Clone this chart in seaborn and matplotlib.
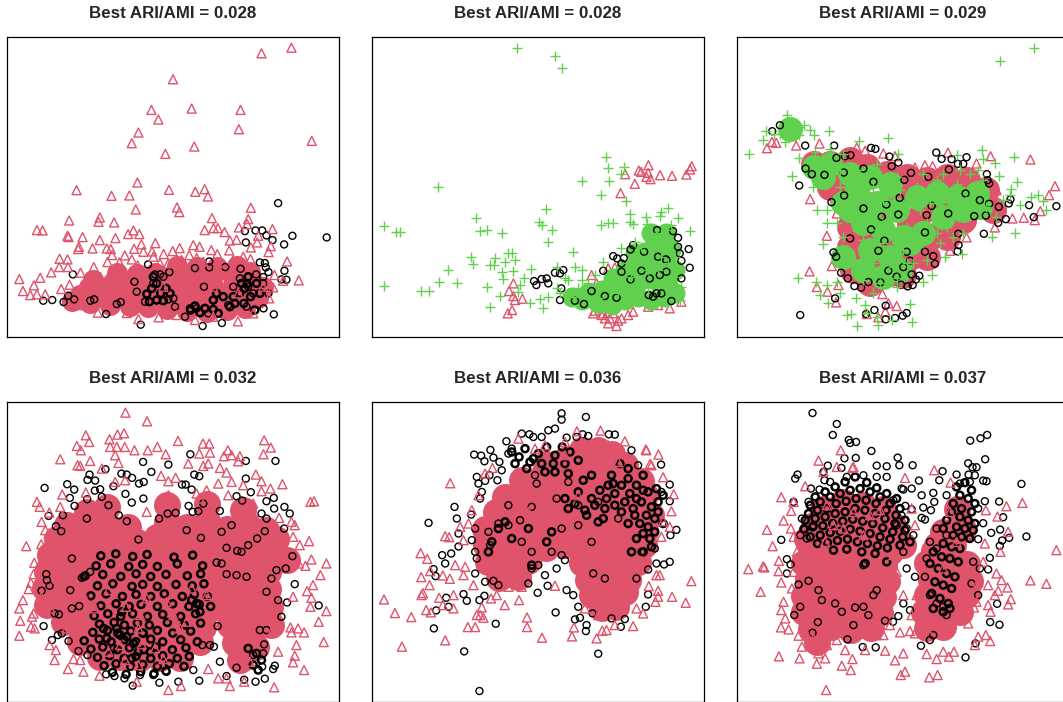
import matplotlib
matplotlib.use("Agg")
import matplotlib.pyplot as plt
import seaborn as sns

# values, in panel units (x 20-1018, y 20-921, y downwards)
# *_core = places where the points overlap into a solid mass, drawn as one filled disc
# *_dense = the crowded black rings on top of that mass

TITLES = ["Best ARI/AMI = 0.028", "Best ARI/AMI = 0.028", "Best ARI/AMI = 0.029",
          "Best ARI/AMI = 0.032", "Best ARI/AMI = 0.036", "Best ARI/AMI = 0.037"]

p1_red = [(875,52),(785,69),(519,147),(454,239),(575,235),(722,239),(475,268),(717,297),(415,307),(395,339),(936,332),(583,349),(496,371),(412,457),(229,480),(507,479),(586,485),(614,477),(624,499),(388,496),(334,497),(407,538),(531,532),(538,546),(753,533),(207,571),(299,562),(295,575),(342,577),(636,564),(745,567),(742,582),(110,600),(127,601),(400,601),(384,612),(418,612),(614,600),(641,594),(654,594),(674,606),(717,592),(818,597),(202,617),(205,621),(247,621),(299,630),(346,624),(690,631),(710,629),(772,637),(775,617),(424,643),(466,639),(236,650),(234,657),(277,655),(320,655),(332,657),(402,656),(539,654),(580,645),(599,650),(753,652),(813,648),(806,666),(178,686),(202,688),(322,696),(336,675),(374,676),(430,665),(456,664),(491,672),(518,663),(634,660),(652,672),(688,661),(862,694),(177,711),(203,711),(57,747),(120,743),(153,727),(897,751),(101,766),(68,783),(90,795),(110,793),(135,793),(183,777),(208,764),(241,728),(281,711),(358,697),(395,688),(413,706),(460,680),(568,675),(590,684),(700,690),(730,680),(752,687),(824,735),(850,752),(820,772),(808,805),(293,848),(380,849),(415,867),(476,862),(714,874),(585,870),(760,850),(545,690),(610,695),(655,700),(480,700),(505,700),(425,725),(360,725),(300,740),(265,745),(235,825),(255,825),(640,860),(530,855),(790,770),(715,790),(640,770),(490,770),(380,790)]
p1_red_core = [(500,838),(560,842),(620,845),(680,840),(735,835),(215,812),(270,820),(330,825),(390,828),(445,830),(240,795),(300,800),(360,805),(420,808),(480,812),(540,815),(600,818),(660,815),(720,812),(775,805),(265,772),(325,778),(385,782),(445,785),(505,788),(565,790),(625,792),(685,788),(745,782),(790,770),(280,750),(340,755),(400,758),(460,760),(520,762),(580,765),(640,768),(700,765),(760,755),(350,728),(410,732),(520,735),(575,738),(635,740),(695,735),(750,725),(530,708),(590,710),(650,712),(710,708),(465,730)]
p1_black = [(835,519),(878,617),(981,622),(735,603),(767,601),(787,601),(800,616),(818,630),(738,637),(853,643),(628,694),(444,703),(780,697),(795,699),(798,712),(854,722),(806,726),(218,733),(508,726),(480,733),(465,733),(585,714),(628,712),(676,711),(722,716),(769,733),(790,741),(845,748),(860,749),(806,790),(791,835),(822,853),(422,884),(608,888),(666,879),(318,852),(129,812),(156,810),(190,816),(204,797),(222,808),(270,812),(282,808),(350,822),(362,816),(403,755),(410,785),(435,815),(460,760),(490,740),(520,805),(525,830),(505,808),(612,770),(570,835),(590,835),(625,850),(555,860),(700,770),(720,745),(685,825),(740,830),(760,790),(745,770),(790,760)]
p1_dense = [(440,792),(455,775),(470,760),(482,790),(498,775),(448,815),(470,810),(490,812),(460,740),(510,790),(572,840),(585,828),(600,848),(615,835),(640,838),(655,850),(690,830),(705,820),(720,790),(735,775),(742,762),(732,820),(752,800),(765,840),(650,790),(670,800),(700,800),(745,740),(770,760),(780,790),(725,760),(640,810)]

p2_green = [(456,54),(571,77),(590,113),(722,381),(728,412),(779,410),(770,430),(650,452),(733,452),(219,472),(709,496),(783,513),(544,536),(910,535),(890,545),(885,558),(795,552),(845,560),(940,563),(333,564),(56,587),(93,607),(104,607),(346,603),(366,600),(412,610),(522,577),(532,584),(560,599),(709,586),(730,578),(745,578),(795,575),(805,582),(847,581),(975,603),(548,635),(623,667),(430,668),(440,668),(319,681),(389,684),(450,689),(420,695),(325,702),(375,706),(388,706),(715,697),(247,720),(410,725),(445,723),(499,718),(575,712),(630,712),(415,747),(220,756),(277,758),(478,745),(465,765),(56,769),(168,783),(192,783),(365,771),(460,785),(405,798),(548,802),(525,808),(495,818),(376,831),(534,835),(575,775),(610,750),(855,620),(900,600),(830,650),(870,640),(920,640),(790,700),(840,690),(890,680),(930,680),(690,735),(650,720),(610,790),(640,775),(670,760),(700,805),(745,735),(880,720),(925,740),(950,770),(945,810),(600,745),(585,790),(625,800),(770,655),(810,635),(650,750),(720,760),(760,790),(800,740),(850,770),(900,770),(850,720),(910,700),(875,610),(920,585)]
p2_green_core = [(670,790),(710,780),(750,770),(790,760),(830,750),(870,750),(910,750),(930,720),(900,700),(860,700),(820,710),(780,720),(880,650),(920,660),(860,610),(905,610),(700,820),(740,825),(780,810),(820,800),(860,810),(900,800),(930,790),(650,810),(840,665),(745,745),(810,670),(860,660),(770,760),(900,640),(620,800)]
p2_red = [(781,432),(822,421),(851,405),(829,425),(850,428),(845,440),(857,447),(886,435),(922,437),(965,433),(976,418),(981,408),(810,461),(767,489),(445,760),(432,783),(445,798),(450,810),(472,806),(441,840),(428,850),(685,850),(690,842),(715,850),(720,865),(735,865),(755,888),(770,865),(790,855),(805,845),(680,735),(730,715),(750,712),(760,745),(695,760),(800,785),(915,835),(950,815),(920,720),(905,745),(660,810),(700,825),(850,830),(880,825),(745,850),(760,872),(730,880),(710,855)]
p2_black = [(877,600),(925,603),(940,623),(805,645),(797,658),(972,657),(745,678),(757,685),(777,684),(838,665),(880,680),(903,688),(950,692),(975,713),(595,720),(585,730),(570,728),(545,745),(530,747),(507,753),(514,765),(550,760),(589,775),(585,810),(630,812),(657,822),(680,783),(720,798),(755,803),(715,722),(770,725),(797,748),(830,722),(885,735),(905,725),(950,745),(852,795),(875,790),(890,790),(920,813),(865,800),(905,690),(940,650),(945,670),(855,745),(770,700)]

p3_green = [(171,255),(185,285),(205,290),(220,285),(240,298),(298,303),(107,303),(97,330),(165,335),(205,315),(250,315),(56,371),(205,384),(186,436),(248,472),(260,541),(292,580),(290,540),(278,643),(203,745),(257,757),(290,765),(320,755),(268,795),(295,820),(378,803),(330,790),(405,825),(350,855),(362,852),(380,888),(445,885),(485,870),(545,876),(540,823),(430,790),(475,323),(387,333),(505,370),(757,360),(680,375),(795,397),(853,380),(808,436),(862,456),(845,478),(840,495),(905,500),(925,495),(940,512),(950,540),(870,525),(855,610),(788,622),(645,680),(695,672),(605,735),(580,755),(912,53),(812,91),(760,385),(760,450),(720,500),(300,420),(285,395),(255,365),(300,355),(340,370),(385,420),(440,400),(500,440),(560,470),(620,450),(680,460),(730,470),(330,470),(380,500),(430,470),(480,500),(540,520),(600,520),(660,510),(720,520),(770,530),(350,560),(410,560),(470,570),(530,590),(590,580),(650,590),(340,620),(400,630),(460,640),(520,660),(580,640),(630,640),(370,690),(430,700),(490,710),(550,700),(400,750),(450,760),(500,745),(150,310),(130,310),(190,300),(410,850),(440,860),(300,450),(330,420),(720,430),(690,420),(745,420),(640,430),(580,430),(820,510),(800,560),(700,610),(360,450),(410,490),(460,510),(510,480),(570,540),(630,500),(690,550),(750,480),(320,580),(380,600),(440,600),(500,620),(560,620),(620,610),(670,620),(350,660),(410,670),(470,680),(530,700),(590,690),(380,730),(440,730),(500,770),(330,700)]
p3_green_core = [(300,400),(360,430),(420,440),(480,460),(380,480),(440,520),(500,540),(560,500),(620,490),(680,500),(740,490),(400,580),(460,600),(520,620),(580,610),(640,560),(700,540),(420,660),(480,680),(540,640),(400,720),(460,740),(340,520),(750,530),(250,410),(280,440),(180,295),(360,540),(420,540),(340,680),(510,720)]
p3_red = [(110,354),(125,335),(138,338),(165,305),(198,346),(268,340),(902,388),(782,378),(654,367),(976,468),(958,495),(932,543),(915,570),(882,563),(848,565),(240,507),(320,550),(290,617),(795,592),(710,622),(660,662),(238,724),(305,708),(260,771),(292,785),(325,765),(318,817),(457,792),(500,828),(475,820),(466,845),(445,862),(410,852),(740,400),(585,405),(608,408),(555,412),(460,370),(495,378),(380,352),(405,362),(390,380),(345,640),(340,665),(350,690),(800,480),(780,480),(805,550)]
p3_red_core = [(300,470),(350,450),(410,410),(470,430),(530,440),(590,450),(650,440),(710,450),(760,500),(340,510),(400,520),(460,530),(520,490),(580,540),(640,520),(700,570),(360,590),(420,610),(480,640),(540,580),(600,620),(650,620),(360,650),(420,680),(480,730),(540,680),(370,720),(430,740),(250,400),(300,400),(790,540),(360,390),(720,510),(650,570),(590,680),(520,735),(420,760),(770,480)]
p3_black = [(149,285),(126,303),(225,346),(312,346),(319,383),(345,378),(361,375),(423,353),(436,356),(478,379),(485,408),(505,397),(619,367),(635,386),(665,387),(684,401),(700,401),(710,381),(657,418),(771,432),(773,450),(778,460),(207,466),(226,415),(245,432),(283,434),(341,427),(400,415),(543,428),(523,449),(595,440),(430,455),(342,496),(304,516),(707,490),(842,508),(837,520),(898,525),(980,528),(807,530),(750,510),(778,521),(509,503),(469,523),(400,535),(455,560),(505,553),(590,555),(605,527),(655,550),(768,556),(733,558),(828,567),(912,561),(805,578),(762,611),(685,611),(585,607),(423,598),(463,632),(360,625),(445,662),(686,645),(683,664),(610,678),(615,701),(310,667),(318,680),(530,665),(585,665),(540,692),(520,711),(475,722),(333,728),(353,745),(373,768),(393,773),(415,756),(451,757),(513,764),(533,769),(548,765),(558,748),(568,737),(545,733),(500,740),(315,805),(210,855),(467,827),(433,840),(408,852),(467,868),(495,864),(518,857),(530,849)]

p4_red = [(376,52),(441,78),(257,120),(372,114),(352,118),(328,132),(267,140),(534,137),(793,135),(609,145),(628,145),(230,152),(330,155),(350,155),(374,155),(403,165),(443,165),(472,155),(242,165),(813,157),(684,165),(180,192),(270,197),(345,180),(497,177),(598,175),(630,172),(672,183),(695,180),(720,183),(791,177),(232,210),(240,212),(355,203),(305,220),(565,205),(610,212),(625,205),(660,218),(715,198),(680,232),(768,238),(483,242),(505,258),(527,248),(655,265),(695,260),(785,258),(848,267),(812,280),(110,320),(186,298),(257,292),(118,335),(180,335),(345,260),(375,255),(620,285),(590,295),(685,300),(730,270),(760,325),(785,288),(932,320),(943,318),(147,352),(124,380),(875,380),(885,390),(838,368),(145,415),(135,405),(880,425),(928,438),(78,453),(123,447),(900,450),(850,460),(102,503),(125,495),(935,493),(980,505),(917,512),(897,505),(100,537),(962,540),(92,563),(85,582),(940,570),(922,588),(123,605),(68,615),(935,608),(880,605),(932,635),(980,648),(57,640),(100,655),(60,677),(95,665),(957,680),(92,695),(103,700),(872,697),(895,700),(57,722),(875,712),(913,712),(148,750),(167,765),(972,741),(890,750),(163,795),(220,792),(240,795),(885,782),(835,770),(880,802),(203,822),(250,830),(913,825),(298,842),(410,860),(505,885),(543,873),(625,822),(655,850),(690,873),(733,860),(823,877),(680,850),(378,635),(420,660),(415,700),(360,750),(425,748),(520,660),(540,700),(465,760),(490,792),(415,810),(325,770),(375,795),(575,580),(560,680),(325,585),(285,640),(250,600),(440,610),(500,620),(620,600),(700,590),(650,660),(720,770),(750,800),(820,700),(770,640),(600,310),(505,300),(440,350),(310,350),(170,550),(200,700),(150,640)]
p4_red_core = [(260,350),(320,335),(500,330),(620,325),(730,345),(200,390),(262,385),(325,392),(385,395),(500,380),(560,395),(620,378),(680,400),(742,385),(800,405),(170,432),(232,425),(290,438),(352,428),(412,440),(472,425),(532,440),(592,430),(652,445),(712,428),(772,442),(830,432),(150,480),(212,472),(272,485),(332,475),(392,490),(455,475),(515,490),(575,478),(635,492),(695,480),(755,492),(815,480),(862,495),(140,530),(200,525),(262,535),(322,528),(385,540),(445,530),(505,540),(565,530),(625,545),(685,530),(745,545),(805,530),(135,580),(195,575),(258,590),(318,580),(380,590),(440,582),(500,592),(560,578),(620,595),(685,585),(745,595),(805,582),(140,630),(200,628),(262,640),(325,632),(385,640),(445,632),(505,645),(565,630),(625,645),(690,635),(750,648),(810,635),(190,680),(250,690),(310,682),(370,690),(430,682),(490,695),(550,680),(610,695),(690,690),(755,700),(815,690),(240,740),(360,735),(480,740),(600,742),(705,745),(770,755),(300,785),(420,790),(540,790),(720,795),(300,735),(420,735),(540,735),(360,785),(480,790)]
p4_black = [(571,177),(429,200),(505,208),(827,197),(738,197),(316,222),(454,230),(268,238),(364,235),(380,238),(396,248),(583,238),(598,243),(738,250),(262,254),(285,256),(133,278),(201,267),(222,283),(340,273),(417,265),(431,260),(546,268),(557,268),(575,283),(284,286),(300,282),(305,305),(376,296),(209,308),(223,332),(261,312),(325,330),(395,322),(430,310),(753,291),(710,303),(822,308),(727,316),(800,318),(854,335),(566,332),(595,348),(578,350),(610,325),(660,347),(527,353),(503,355),(477,370),(870,355),(188,360),(145,362),(260,370),(356,360),(380,378),(695,390),(183,408),(167,393),(795,408),(853,400),(823,340),(800,370),(785,355),(665,410),(560,405),(603,428),(772,430),(415,433),(745,450),(680,458),(712,467),(725,470),(878,483),(858,520),(830,525),(650,502),(665,505),(215,490),(138,537),(140,555),(148,572),(124,587),(815,550),(885,567),(740,545),(680,537),(710,540),(250,545),(245,548),(270,530),(800,590),(862,622),(957,631),(835,615),(210,585),(163,655),(176,658),(237,633),(130,693),(215,640),(845,665),(653,693),(780,705),(800,705),(173,720),(185,715),(155,735),(205,738),(235,768),(262,780),(630,750),(642,755),(793,748),(790,775),(660,800),(607,750),(825,812),(820,822),(787,815),(760,780),(710,818),(680,843),(733,854),(767,860),(795,851),(598,857),(535,860),(478,863),(398,872),(373,850),(343,843),(318,838),(420,840),(460,840),(500,830),(580,825)]
p4_dense = [(302,482),(347,476),(398,484),(441,478),(522,486),(578,480),(288,512),(332,506),(386,514),(428,508),(472,514),(532,506),(608,512),(255,542),(308,538),(362,544),(408,536),(452,544),(498,538),(562,542),(602,536),(292,572),(338,566),(396,574),(428,568),(472,574),(528,568),(577,572),(612,566),(272,602),(318,596),(367,604),(408,598),(452,604),(493,596),(547,604),(583,598),(622,604),(302,632),(348,626),(387,634),(423,628),(472,634),(518,626),(567,634),(598,628),(632,634),(282,662),(323,656),(362,664),(398,656),(442,664),(488,658),(542,664),(587,656),(298,687),(342,682),(373,690),(412,684),(448,690),(502,682),(553,690),(602,684),(278,712),(322,706),(353,714),(392,708),(428,714),(472,706),(518,714),(572,708),(252,737),(297,732),(333,740),(372,734),(408,740),(452,732),(488,740),(542,734),(592,740),(272,762),(308,756),(352,764),(388,758),(432,764),(468,756),(517,764),(558,758),(292,787),(328,782),(372,790),(408,784),(452,790),(488,782),(532,790),(568,784),(312,812),(348,806),(392,814),(428,808),(472,814),(508,806),(552,814),(337,832),(378,838),(422,830),(462,836),(498,828),(770,775),(785,795),(760,810),(775,825),(745,760),(350,700),(380,725),(415,770),(340,760),(365,650),(430,715),(395,790),(320,730),(310,700),(360,720),(400,745),(450,770),(590,625),(575,615),(600,650)]

p5_red = [(707,106),(636,108),(843,163),(881,178),(856,206),(860,210),(895,246),(255,264),(927,297),(920,348),(895,378),(915,395),(890,425),(285,395),(240,423),(252,426),(295,435),(166,474),(186,491),(195,528),(168,546),(233,541),(254,551),(193,570),(173,594),(169,600),(270,510),(300,515),(295,540),(980,558),(875,540),(885,540),(852,573),(880,587),(880,605),(922,605),(872,620),(963,623),(56,613),(222,608),(265,640),(233,630),(183,645),(197,652),(89,654),(138,666),(350,637),(335,660),(345,660),(355,668),(419,630),(378,610),(462,615),(486,667),(486,696),(308,696),(330,696),(240,736),(110,755),(531,728),(621,724),(695,730),(627,697),(805,693),(750,690),(725,705),(712,707),(835,655),(815,640),(430,575),(470,575),(570,572),(395,600),(325,570),(265,600),(382,218),(360,235),(460,130),(780,138),(845,165),(320,345),(310,385),(340,300),(420,290),(490,350),(640,300),(700,250),(760,200),(560,260),(600,180),(680,400),(740,470),(660,640),(700,660),(760,620),(800,600),(700,150),(650,140),(730,150),(770,170),(510,160),(540,150),(600,140)]
p5_red_core = [(542,205),(600,195),(662,205),(720,190),(780,210),(472,255),(530,245),(592,258),(650,245),(710,255),(772,248),(830,258),(420,305),(482,295),(540,308),(602,298),(660,308),(722,295),(782,305),(842,298),(392,350),(450,345),(512,358),(572,348),(630,358),(692,345),(750,355),(812,348),(860,358),(360,402),(422,395),(480,408),(540,398),(602,408),(660,395),(722,405),(780,398),(842,408),(362,450),(420,458),(482,448),(542,458),(600,448),(662,458),(722,448),(782,458),(838,450),(370,500),(432,508),(490,498),(652,505),(712,498),(772,508),(820,500),(402,550),(460,545),(670,555),(732,548),(790,555),(682,600),(740,605),(782,592),(712,640),(752,635),(650,165),(700,165),(740,175)]
p5_black = [(590,54),(663,65),(590,73),(424,138),(470,115),(493,117),(505,125),(530,125),(550,105),(570,100),(605,127),(635,125),(653,117),(670,122),(732,117),(750,118),(376,164),(327,178),(348,181),(385,187),(358,198),(403,200),(430,175),(440,160),(800,165),(820,210),(889,208),(335,245),(373,240),(410,225),(360,257),(397,255),(340,265),(350,290),(345,310),(915,268),(915,318),(890,290),(268,335),(275,370),(190,383),(318,358),(330,400),(280,415),(935,404),(917,420),(320,435),(280,454),(258,475),(231,480),(240,505),(205,522),(211,543),(915,500),(898,508),(875,505),(850,523),(330,535),(360,560),(385,557),(400,570),(490,565),(548,572),(518,593),(605,585),(625,600),(850,598),(243,608),(295,597),(305,617),(358,602),(343,615),(250,635),(213,646),(843,635),(572,652),(640,635),(630,673),(645,668),(665,690),(663,708),(392,686),(206,700),(297,769),(700,776),(343,888),(740,670),(780,672),(768,695),(683,655),(500,520),(520,510),(540,540),(575,520),(600,495),(590,480),(560,470),(500,470),(370,410),(430,390),(400,385),(465,375),(500,335),(515,265),(610,260),(575,310),(680,440),(720,550),(685,535),(815,550),(830,470),(870,460),(330,470),(335,490),(375,450),(510,240),(430,330),(640,330),(640,390),(700,320),(760,370),(590,400),(470,440)]
p5_dense = [(440,170),(462,185),(480,160),(495,200),(520,175),(545,155),(570,180),(592,155),(615,170),(450,205),(485,220),(530,205),(565,205),(600,205),(640,195),(570,230),(610,235),(655,255),(680,240),(705,285),(730,270),(750,295),(770,270),(790,250),(815,270),(835,240),(850,290),(875,280),(895,300),(880,320),(860,335),(830,320),(805,340),(780,320),(750,330),(720,340),(690,330),(660,345),(630,325),(845,360),(870,370),(825,385),(850,395),(870,410),(835,415),(815,430),(855,430),(810,360),(790,385),(770,350),(700,380),(715,370),(665,360),(610,340),(880,350),(895,385),(860,455),(835,470),(800,470),(420,380),(400,400),(380,440),(370,470),(440,430),(490,400),(545,440),(560,410),(500,510),(680,310),(740,240),(765,205),(790,220),(540,230),(505,190),(835,285),(815,310),(795,295),(725,310),(745,265),(600,310),(640,290)]

p6_red = [(265,196),(332,165),(320,215),(280,230),(367,218),(225,273),(153,306),(190,320),(183,347),(160,376),(110,404),(182,400),(190,425),(127,453),(54,522),(98,514),(102,517),(146,497),(145,528),(153,562),(91,590),(185,580),(160,620),(153,645),(165,670),(152,697),(175,703),(205,722),(215,755),(146,784),(208,790),(260,806),(288,885),(335,812),(362,825),(367,792),(405,765),(465,767),(495,796),(520,775),(512,840),(525,830),(598,847),(623,840),(620,792),(590,777),(657,785),(672,770),(745,725),(768,720),(781,738),(735,750),(715,685),(700,658),(732,637),(775,630),(782,650),(835,628),(843,612),(795,600),(805,587),(833,577),(815,555),(775,570),(800,535),(760,500),(812,470),(765,445),(835,410),(803,364),(830,333),(878,323),(768,345),(980,465),(902,556),(950,566),(613,225),(662,262),(525,248),(545,340),(555,390),(440,720),(460,720),(510,712),(540,708),(555,715),(320,735),(345,765),(250,730),(265,775),(285,790),(230,720),(590,700),(480,690),(640,770),(290,750),(340,400),(450,345),(285,440),(400,420),(680,440),(640,520),(490,480),(370,215),(370,350),(290,330),(420,360),(310,390),(660,350),(500,530),(520,600),(200,470),(190,530),(745,560),(740,620),(560,600),(545,660)]
p6_red_core = [(222,505),(282,498),(342,508),(402,500),(462,510),(592,505),(652,498),(712,508),(232,552),(292,548),(352,558),(412,550),(470,558),(602,555),(660,548),(720,558),(222,602),(282,595),(342,605),(402,598),(460,605),(592,600),(652,608),(710,598),(222,652),(282,645),(342,655),(402,648),(450,655),(582,650),(640,658),(690,650),(242,702),(302,695),(362,705),(422,698),(592,700),(640,695),(260,740),(242,468),(300,475),(360,468),(420,475),(612,468),(280,340),(340,320),(400,330),(460,340),(250,390),(310,380),(370,390),(430,380),(490,390),(230,430),(290,430),(350,430),(410,430),(470,430),(520,450),(680,340),(700,400),(640,410),(670,450),(620,450),(480,470)]
p6_black = [(247,53),(320,86),(308,119),(356,134),(360,143),(378,140),(424,167),(343,189),(377,188),(503,187),(772,119),(752,129),(721,136),(766,192),(715,204),(728,216),(740,216),(548,210),(508,210),(470,213),(440,211),(293,211),(334,218),(202,238),(195,250),(280,230),(638,228),(628,255),(680,238),(735,240),(716,238),(567,256),(283,255),(760,256),(770,258),(875,266),(242,280),(268,283),(520,283),(545,280),(575,300),(610,293),(190,320),(235,320),(808,319),(765,318),(580,337),(613,320),(603,345),(490,315),(526,332),(820,366),(545,342),(515,361),(585,373),(575,368),(760,384),(784,413),(811,403),(838,428),(890,424),(817,436),(810,452),(153,434),(745,432),(780,488),(170,492),(181,508),(170,535),(205,568),(775,523),(725,565),(745,600),(802,626),(781,681),(809,689),(737,745),(707,787),(192,660),(210,635),(263,681),(247,713),(352,733),(398,756),(437,757),(489,680),(465,677),(573,752),(520,625),(540,645),(505,663),(370,690),(415,660),(400,635),(375,637),(335,650),(315,625),(235,557),(275,615),(265,585),(400,510),(440,585),(430,600),(590,490),(555,545),(585,545),(530,520),(520,470),(550,420),(600,440),(620,400),(750,520),(730,500),(650,420),(620,460),(600,600),(620,625),(650,660),(640,635),(610,720),(600,735),(220,400),(230,430),(210,420),(215,370),(250,390),(440,245),(470,245),(515,280),(300,260),(350,245),(400,240),(690,265),(720,260),(650,300),(745,340),(500,390),(530,400)]
p6_dense = [(255,305),(285,290),(315,275),(345,260),(375,245),(410,262),(440,278),(470,295),(500,310),(240,330),(270,320),(300,305),(330,295),(360,285),(390,280),(420,290),(450,305),(480,325),(510,340),(235,355),(262,345),(290,340),(318,325),(348,318),(378,310),(408,315),(438,325),(468,345),(498,360),(525,375),(225,375),(255,370),(285,365),(315,355),(345,350),(375,340),(405,345),(435,355),(465,370),(495,385),(525,405),(222,402),(248,395),(278,392),(308,385),(338,378),(368,372),(398,378),(428,385),(458,398),(488,410),(518,425),(240,425),(270,420),(300,412),(330,408),(360,402),(390,408),(420,415),(450,425),(480,432),(540,440),(262,445),(292,442),(322,436),(352,432),(382,440),(412,445),(442,452),(472,458),(510,450),(310,465),(350,462),(395,470),(435,475),(405,505),(470,500),(680,275),(705,262),(725,285),(690,300),(715,310),(735,325),(670,325),(695,340),(725,350),(665,350),(690,365),(715,375),(735,385),(650,375),(680,395),(705,400),(730,405),(640,400),(670,420),(695,425),(720,430),(640,445),(665,455),(690,460),(610,470),(635,485),(660,490),(685,500),(600,505),(625,520),(650,535),(675,545),(615,560),(640,570),(665,580),(605,595),(630,610),(655,625),(640,650),(660,640),(610,640)]

RED = "#DF536B"
GREEN = "#61D04F"
BLACK = "black"

# left/top of each panel in pixels of the 1063x702 figure
PANEL_LEFT = [7, 372, 737]
PANEL_TOP = [37, 402]
PANEL_W = 332
PANEL_H = 300
FIG_W = 1063
FIG_H = 702


def px_size(width_px):
    # scatter size (pt^2) of a marker that is width_px wide at dpi 100
    return (width_px * 0.72) ** 2


def draw_open(ax, pts, marker, color, width_px, lw=1.0):
    x = [p[0] for p in pts]
    y = [p[1] for p in pts]
    sns.scatterplot(x=x, y=y, marker=marker, s=px_size(width_px), facecolor="none",
                    edgecolor=color, linewidth=lw, ax=ax, legend=False)


def draw_plus(ax, pts, width_px=10):
    x = [p[0] for p in pts]
    y = [p[1] for p in pts]
    sns.scatterplot(x=x, y=y, marker="+", s=px_size(width_px), color=GREEN,
                    linewidth=1.0, ax=ax, legend=False)


def draw_core(ax, pts, color, width_px):
    x = [p[0] for p in pts]
    y = [p[1] for p in pts]
    sns.scatterplot(x=x, y=y, marker="o", s=px_size(width_px), color=color,
                    linewidth=0, ax=ax, legend=False)


sns.set_style("white")
plt.rcParams["font.family"] = ["Liberation Sans", "DejaVu Sans"]

fig = plt.figure(figsize=(FIG_W / 100, FIG_H / 100), dpi=100)
axes = []
for top in PANEL_TOP:
    for left in PANEL_LEFT:
        ax = fig.add_axes([left / FIG_W, 1 - (top + PANEL_H) / FIG_H, PANEL_W / FIG_W, PANEL_H / FIG_H])
        axes.append(ax)

TRI = 9
CIRC = 7
DENSE_LW = 1.8

draw_core(axes[0], p1_red_core, RED, 21)
draw_open(axes[0], p1_black, "o", BLACK, CIRC)
draw_open(axes[0], p1_dense, "o", BLACK, CIRC, DENSE_LW)
draw_open(axes[0], p1_red, "^", RED, TRI)

draw_open(axes[1], p2_red, "^", RED, TRI)
draw_core(axes[1], p2_green_core, GREEN, 20)
draw_open(axes[1], p2_black, "o", BLACK, CIRC)
draw_plus(axes[1], p2_green)

draw_core(axes[2], p3_red_core, RED, 27)
draw_open(axes[2], p3_red, "^", RED, TRI)
draw_core(axes[2], p3_green_core, GREEN, 25)
draw_open(axes[2], p3_black, "o", BLACK, CIRC)
draw_plus(axes[2], p3_green)

draw_core(axes[3], p4_red_core, RED, 27)
draw_open(axes[3], p4_black, "o", BLACK, CIRC)
draw_open(axes[3], p4_dense, "o", BLACK, CIRC, DENSE_LW)
draw_open(axes[3], p4_red, "^", RED, TRI)

draw_core(axes[4], p5_red_core, RED, 27)
draw_open(axes[4], p5_black, "o", BLACK, CIRC)
draw_open(axes[4], p5_dense, "o", BLACK, CIRC, DENSE_LW)
draw_open(axes[4], p5_red, "^", RED, TRI)

draw_core(axes[5], p6_red_core, RED, 27)
draw_open(axes[5], p6_black, "o", BLACK, CIRC)
draw_open(axes[5], p6_dense, "o", BLACK, CIRC, DENSE_LW)
draw_open(axes[5], p6_red, "^", RED, TRI)

for ax, title in zip(axes, TITLES):
    ax.set_xlim(20, 1018)
    ax.set_ylim(921, 20)
    ax.set_xticks([])
    ax.set_yticks([])
    for spine in ax.spines.values():
        spine.set_visible(True)
        spine.set_color("black")
        spine.set_linewidth(0.9)
    ax.set_title(title, fontsize=12.15, fontweight="bold", pad=13.8)

fig.savefig("out.png", dpi=100)
